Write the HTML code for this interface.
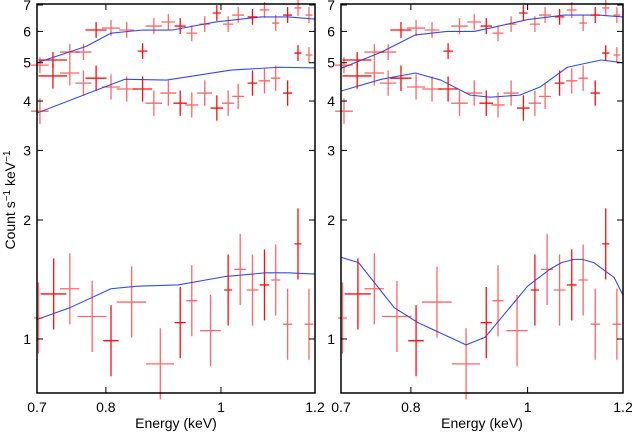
<!DOCTYPE html>
<html><head><meta charset="utf-8"><style>
body{margin:0;background:#fff;}
svg{display:block;font-family:"Liberation Sans",sans-serif;}
</style></head><body>
<svg id="chart" width="634" height="432" viewBox="0 0 634 432" xmlns="http://www.w3.org/2000/svg">
<text transform="translate(15,200) rotate(-90)" text-anchor="middle" font-size="14">Count s<tspan dy="-5" font-size="10">−1</tspan><tspan dy="5"> keV</tspan><tspan dy="-5" font-size="10">−1</tspan></text>
</svg>
<script>
const xTicks=[0.7,0.8,1,1.2];
const xTickLabels=["0.7","0.8","1","1.2"];
const yTicks=[1,2,3,4,5,6,7];
const yTickLabels=["1","2","3","4","5","6","7"];
const upX=[0.704,0.722,0.746,0.766,0.785,0.808,0.833,0.859,0.878,0.903,0.924,0.945,0.969,0.992,1.014,1.034,1.063,1.088,1.112,1.138,1.161,1.186,1.161,1.186];
const upY=[4.93,5.08,5.32,5.32,6.05,6.12,6.05,5.35,6.19,6.34,6.19,5.94,6.26,6.68,6.26,6.6,6.53,6.8,6.3,6.6,6.88,6.6,5.29,5.23];
const upXh=[0.012,0.02,0.014,0.012,0.016,0.014,0.012,0.008,0.014,0.012,0.01,0.01,0.01,0.008,0.01,0.012,0.01,0.01,0.008,0.01,0.008,0.008,0.008,0.008];
const midX=[0.704,0.722,0.746,0.766,0.785,0.808,0.833,0.859,0.878,0.903,0.924,0.945,0.969,0.992,1.014,1.034,1.063,1.088,1.112,1.138];
const midY=[3.77,4.63,4.71,4.44,4.57,4.34,4.29,4.29,3.95,4.19,3.95,3.91,4.19,3.84,3.95,4.11,4.44,4.5,4.57,4.19];
const midXh=[0.012,0.02,0.014,0.012,0.016,0.014,0.016,0.016,0.014,0.014,0.012,0.012,0.014,0.012,0.012,0.012,0.01,0.012,0.01,0.01];
const lowX=[0.702,0.723,0.746,0.779,0.808,0.841,0.889,0.924,0.945,0.98,1.014,1.038,1.063,1.088,1.112,1.138,1.161,1.186];
const lowY=[1.13,1.3,1.34,1.14,0.99,1.24,0.865,1.1,1.25,1.05,1.33,1.5,1.33,1.37,1.41,1.09,1.74,1.09];
const lowXh=[0.006,0.018,0.014,0.022,0.012,0.024,0.024,0.01,0.01,0.02,0.008,0.012,0.012,0.01,0.01,0.01,0.008,0.01];
const upErr=0.02, midErr=0.032, lowErr=0.09;
const mAUpX=[0.7,0.77,0.808,0.86,0.91,0.99,1.08,1.14,1.2];
const mAUpY=[5.0,5.5,5.94,6.05,6.05,6.34,6.53,6.53,6.45];
const mAMidX=[0.7,0.766,0.83,0.9,1.02,1.12,1.2];
const mAMidY=[3.73,4.14,4.54,4.52,4.79,4.87,4.85];
const mALowX=[0.7,0.746,0.808,0.85,0.92,1.01,1.09,1.14,1.2];
const mALowY=[1.12,1.2,1.34,1.36,1.37,1.44,1.47,1.47,1.46];
const mBUpX=[0.7,0.756,0.807,0.857,0.903,0.931,1.0,1.073,1.145,1.2];
const mBUpY=[4.84,5.32,5.88,6.0,6.0,6.12,6.43,6.6,6.6,6.53];
const mBMidX=[0.7,0.756,0.807,0.847,0.896,0.931,0.985,1.024,1.079,1.151,1.2];
const mBMidY=[4.24,4.54,4.71,4.52,4.14,4.09,4.14,4.34,4.87,5.08,5.0];
const mBLowX=[0.7,0.724,0.775,0.811,0.889,0.922,1.0,1.043,1.067,1.093,1.11,1.135,1.18,1.2];
const mBLowY=[1.61,1.56,1.2,1.1,0.966,1.01,1.36,1.5,1.56,1.59,1.59,1.56,1.43,1.29];

const NS="http://www.w3.org/2000/svg";
const svg=document.getElementById('chart');
const Y0=4,Y1=393,YMIN=0.73,YMAX=7.04;
function yS(v){return Y1-(Math.log(v/YMIN)/Math.log(YMAX/YMIN))*(Y1-Y0);}
function mk(tag,attrs,parent){const e=document.createElementNS(NS,tag);for(const k in attrs)e.setAttribute(k,attrs[k]);(parent||svg).appendChild(e);return e;}
function panel(x0,x1,name,models){
  const xS=v=>x0+Math.log(v/0.7)/Math.log(1.2/0.7)*(x1-x0);
  const g=mk('g',{});
  
  
  function series(xs,ys,xh,err,sname){
    const sg=mk('g',{},g);
    
    
    const f=Math.pow(10,err);
    xs.forEach((x,i)=>{
      const h=xh[i];
      const cx=xS(x),cy=yS(ys[i]);
      const op=(i%3===1)?0.95:0.6;
      const e=mk('path',{d:`M${xS(x-h)},${cy}H${xS(x+h)}M${cx},${yS(ys[i]/f)}V${yS(ys[i]*f)}`,stroke:'#f00','stroke-width':1.3,'stroke-opacity':op,fill:'none'},sg);
      
      
    });
  }
  const clip='clip-'+name;
  const cp=mk('clipPath',{id:clip},g);mk('rect',{x:x0,y:Y0,width:x1-x0,height:Y1-Y0},cp);
  const dg=mk('g',{'clip-path':`url(#${clip})`},g);
  series(upX,upY,upXh,upErr,'upper-data');
  series(midX,midY,midXh,midErr,'middle-data');
  series(lowX,lowY,lowXh,lowErr,'lower-data');
  models.forEach((m,j)=>{
    const p=mk('polyline',{points:m[0].map((x,i)=>xS(x)+','+yS(m[1][i])).join(' '),fill:'none',stroke:'#2a4cff','stroke-width':1.1,'stroke-linejoin':'round'},dg);
    
    
  });
  const f=mk('rect',{x:x0,y:Y0,width:x1-x0,height:Y1-Y0,fill:'none',stroke:'#000','stroke-width':1.5},g);
  
  
  xTicks.forEach((t,i)=>{
    const x=xS(t);
    mk('path',{d:`M${x},${Y1}v-6M${x},${Y0}v6`,stroke:'#000','stroke-width':1},g);
    const tl=mk('text',{x:x,y:412,'text-anchor':'middle','font-size':14},g);
    tl.textContent=xTickLabels[i];
    
    
  });
  yTicks.forEach((t,i)=>{
    const y=yS(t);
    mk('path',{d:`M${x0},${y}h6M${x1},${y}h-6`,stroke:'#000','stroke-width':1},g);
    const tl=mk('text',{x:x0-6,y:y+5,'text-anchor':'end','font-size':14},g);
    tl.textContent=yTickLabels[i];
    
    
  });
  const xl=mk('text',{x:(x0+x1)/2,y:428,'text-anchor':'middle','font-size':14},g);
  xl.textContent='Energy (keV)';
  
  
}
panel(37,315,'left-panel',[[mAUpX,mAUpY],[mAMidX,mAMidY],[mALowX,mALowY]]);
panel(341,623,'right-panel',[[mBUpX,mBUpY],[mBMidX,mBMidY],[mBLowX,mBLowY]]);
</script>
</body></html>
